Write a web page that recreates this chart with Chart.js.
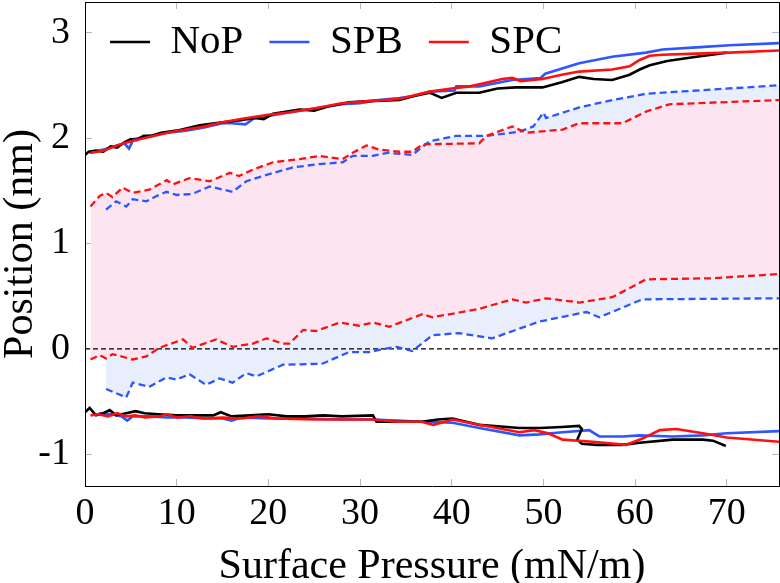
<!DOCTYPE html>
<html><head><meta charset="utf-8">
<script src="https://cdn.jsdelivr.net/npm/chart.js@4"></script>
<style>html,body{margin:0;padding:0;background:#fff}#wrap{width:780px;height:583px}</style>
</head><body><div id="wrap"><canvas id="c" width="780" height="583"></canvas></div>
<script>
// ---- data (Surface Pressure in mN/m, Position in nm) ----
const xTicks = [0, 10, 20, 30, 40, 50, 60, 70];
const yTicks = [-1, 0, 1, 2, 3];

const nopUpperX = [0,0.4,1.2,2.0,2.8,3.5,4.3,5.0,5.6,6.4,7.2,8.3,10,12.5,15,17,18.5,19.5,20.5,23.4,25,26.5,28.8,31,34.3,36,37.6,38.9,40.5,43,45,47,49.9,52,53.9,55.5,57.5,59.4,60.5,61.6,63.5,66.7,70];
const nopUpperY = [1.84,1.87,1.88,1.87,1.92,1.91,1.96,1.99,1.98,2.02,2.02,2.05,2.07,2.12,2.15,2.17,2.19,2.18,2.23,2.27,2.26,2.30,2.34,2.35,2.36,2.40,2.43,2.38,2.43,2.43,2.47,2.48,2.48,2.53,2.58,2.56,2.55,2.60,2.65,2.69,2.73,2.77,2.81];

const spbUpperX = [0.5,2,3.5,4.3,4.8,5.3,7,9,11,13,15,16,17.5,18.5,20,22,25,28,30,32,34.3,36,37.6,40.3,40.5,43,46.6,49.7,50.2,53.9,57.5,61.2,63,66.7,70.3,75.7];
const spbUpperY = [1.86,1.89,1.93,1.95,1.90,1.99,2.02,2.05,2.07,2.10,2.14,2.14,2.13,2.19,2.21,2.24,2.28,2.32,2.33,2.36,2.38,2.40,2.44,2.45,2.49,2.49,2.55,2.57,2.61,2.71,2.77,2.81,2.84,2.86,2.88,2.90];

const spcUpperX = [0.6,2,3.5,5,7,9,11,13,15,17,20,22,25,28,31,34.3,37.6,40,42,43.5,45.5,46.6,47.5,49.9,52,53.9,57.5,59.4,60.5,61.6,63,66.7,70.3,75.7];
const spcUpperY = [1.86,1.88,1.93,1.97,2.01,2.05,2.08,2.11,2.15,2.18,2.22,2.24,2.28,2.33,2.35,2.37,2.44,2.47,2.49,2.52,2.56,2.57,2.54,2.56,2.60,2.63,2.65,2.68,2.74,2.78,2.79,2.80,2.81,2.83];

const nopLowerX = [0,0.5,1.2,2,2.7,3.4,4.5,5.5,6.5,8,10,12,14,14.8,16,18,20,22,24,26,28,31.4,31.8,34,36.7,38.5,40.1,43,47.4,49.6,52,53.9,54.2,53.7,54.2,55.8,58.6,60.5,64.1,67.4,68.5,69.9];
const nopLowerY = [-0.60,-0.56,-0.63,-0.61,-0.58,-0.63,-0.61,-0.59,-0.61,-0.62,-0.63,-0.63,-0.63,-0.60,-0.64,-0.63,-0.62,-0.64,-0.64,-0.63,-0.64,-0.63,-0.69,-0.69,-0.69,-0.67,-0.66,-0.72,-0.75,-0.75,-0.74,-0.73,-0.76,-0.86,-0.90,-0.91,-0.91,-0.89,-0.86,-0.86,-0.87,-0.92];

const spbLowerX = [1.5,3,4,4.6,5.2,7,9,11,13,15,16,17,20,24,28,31.4,34,36.7,40.1,43,47.4,49.6,52.1,55,56.1,58.6,60.5,64.1,67.4,70,75.7];
const spbLowerY = [-0.61,-0.62,-0.64,-0.68,-0.64,-0.64,-0.65,-0.65,-0.66,-0.66,-0.68,-0.65,-0.66,-0.66,-0.67,-0.67,-0.68,-0.69,-0.70,-0.75,-0.82,-0.81,-0.79,-0.77,-0.83,-0.83,-0.82,-0.83,-0.82,-0.80,-0.78];

const spcLowerX = [0.6,1.5,2.5,3.5,4.5,5.5,6.5,8,9,10,11.5,13,15,17,19,21,25,28,31.4,34,36.7,38,40.1,43,45.5,47.4,49,50.5,52.1,55.4,59,60.8,62.7,64.5,67.4,70,75.7];
const spcLowerY = [-0.63,-0.62,-0.64,-0.61,-0.64,-0.63,-0.65,-0.64,-0.62,-0.65,-0.64,-0.66,-0.65,-0.66,-0.64,-0.66,-0.67,-0.67,-0.67,-0.69,-0.69,-0.72,-0.67,-0.72,-0.76,-0.79,-0.77,-0.80,-0.86,-0.88,-0.91,-0.85,-0.77,-0.76,-0.80,-0.84,-0.88];

const spcHeadX = [0.6,1.6,2.3,3,4.1,5.2,7,8.9,9.6,11.4,13.6,15.8,16.8,18.3,20.5,23.4,25.6,28.1,29.2,30.7,32.1,34.3,35.7,36.8,43,43.8,46.6,48.1,52.1,53.9,58.6,61.2,63.7,75.7];
const spcHeadY = [1.35,1.45,1.48,1.44,1.53,1.48,1.51,1.60,1.56,1.62,1.59,1.67,1.64,1.70,1.77,1.80,1.83,1.80,1.86,1.93,1.89,1.87,1.87,1.94,1.95,2.02,2.11,2.05,2.08,2.14,2.14,2.25,2.32,2.36];

const spcTailX = [0.6,1.6,2.3,3,5.2,6.7,8.1,10.7,11.7,14.3,16.1,18.3,19.8,21.6,22.3,23.8,25.2,27.8,29.9,31.4,33.2,36.8,37.9,43,46.6,48.1,50.3,53.9,57.5,59.7,61.2,68.4,75.7];
const spcTailY = [-0.10,-0.06,-0.09,-0.05,-0.10,-0.07,0.01,0.09,0.01,0.09,0.02,0.05,0.10,0.05,0.05,0.18,0.17,0.25,0.22,0.25,0.21,0.33,0.30,0.38,0.47,0.44,0.48,0.44,0.49,0.59,0.66,0.67,0.71];

const spbHeadX = [2.3,3.4,4.5,5.2,6.7,7.8,8.9,10,11.7,13.6,16.1,17.6,19.8,22.6,25.2,28.1,29.2,31.4,33,35.7,37.6,40.5,43.8,47.4,48.9,50,50.3,53.9,57.5,61.2,68.4,75.7];
const spbHeadY = [1.32,1.40,1.35,1.42,1.40,1.45,1.49,1.46,1.47,1.54,1.49,1.59,1.65,1.72,1.75,1.77,1.83,1.83,1.86,1.84,1.97,2.02,2.02,2.06,2.11,2.24,2.19,2.29,2.36,2.42,2.46,2.50];

const spbTailX = [2.3,4.5,5.2,7,8.9,10,11.4,13.2,14.7,16.1,17.6,18.7,21.6,25.9,28.8,31,32.1,34,35.7,37.9,40.8,44.4,49.6,54.7,56.1,60.8,75.7];
const spbTailY = [-0.38,-0.46,-0.32,-0.36,-0.27,-0.29,-0.24,-0.34,-0.28,-0.32,-0.23,-0.26,-0.15,-0.14,-0.03,-0.03,-0.01,0.02,-0.02,0.13,0.15,0.10,0.26,0.35,0.30,0.47,0.48];

const zeroX = [0, 75.7];
const zeroY = [0, 0];

// ---- build ----
const pts = (xs, ys) => xs.map((x, i) => ({x: x, y: ys[i]}));
const FONT = "'Liberation Serif', 'Times New Roman', serif";
const BLACK = '#000000', BLUE = '#2f55ff', RED = '#ff1010';
const PINK = '#fce4f0', LBLUE = '#e8eefc';
const X_MIN = 0, X_MAX = 75.7, Y_MIN = -1.30, Y_MAX = 3.29;

const solid = (label, data, color) => ({label, data, borderColor: color, backgroundColor: color, borderWidth: 2.6, pointRadius: 0, fill: false, tension: 0});
const dashed = (label, data, color, fill, bg) => ({label, data, borderColor: color, backgroundColor: bg || 'transparent', borderWidth: 2.3, borderDash: [7, 4], pointRadius: 0, fill: fill, tension: 0});

const datasets = [
  solid('SPC', pts(spcUpperX, spcUpperY), RED),            // 0
  solid('SPC lower', pts(spcLowerX, spcLowerY), RED),      // 1
  dashed('SPC head', pts(spcHeadX, spcHeadY), RED, {target: 3}, PINK), // 2
  dashed('SPC tail', pts(spcTailX, spcTailY), RED, false), // 3
  solid('NoP', pts(nopUpperX, nopUpperY), BLACK),          // 4
  solid('NoP lower', pts(nopLowerX, nopLowerY), BLACK),    // 5
  solid('SPB', pts(spbUpperX, spbUpperY), BLUE),           // 6
  solid('SPB lower', pts(spbLowerX, spbLowerY), BLUE),     // 7
  dashed('SPB head', pts(spbHeadX, spbHeadY), BLUE, {target: 9}, LBLUE), // 8
  dashed('SPB tail', pts(spbTailX, spbTailY), BLUE, false), // 9
  {label: 'zero', data: pts(zeroX, zeroY), borderColor: BLACK, borderWidth: 1.3, borderDash: [5, 3], pointRadius: 0, fill: false} // 10
];

const legendOrder = ['NoP', 'SPB', 'SPC'];
const tickGrid = {drawOnChartArea: false, drawTicks: true, tickLength: -7, color: '#b8b8b8', lineWidth: 1};
const border = {display: true, color: '#000', width: 1};
const noPad = (s) => { s.paddingTop = 0; s.paddingBottom = 0; s.paddingLeft = 0; s.paddingRight = 0; };

// Legend drawn inside the plot area as one row (pgfplots style):
// it takes no layout height, then its box is placed over the chart area.
const legendInside = {
  id: 'legendInside',
  beforeLayout(chart) {
    const lg = chart.legend;
    if (lg && !lg._insidePatched) {
      const origFit = lg.fit.bind(lg);
      lg.fit = function () { origFit(); this.height = 0; };
      lg._insidePatched = true;
    }
  },
  afterLayout(chart) {
    const lg = chart.legend;
    const area = chart.chartArea;
    lg.left = area.left - 1;
    lg.right = area.right;
    lg.top = area.top - 6.5;
    lg.bottom = area.top + 90;
    lg.width = lg.right - lg.left;
    lg.height = lg.bottom - lg.top;
  }
};

new Chart(document.getElementById('c'), {
  type: 'line',
  data: {datasets},
  plugins: [legendInside],
  options: {
    responsive: false,
    devicePixelRatio: 1,
    animation: false,
    events: [],
    layout: {padding: {top: 2, right: 1, left: 0, bottom: 0}},
    plugins: {
      tooltip: {enabled: false},
      filler: {drawTime: 'beforeDatasetsDraw'},
      legend: {
        position: 'top',
        align: 'start',
        fullSize: false,
        labels: {
          filter: (item) => legendOrder.includes(item.text),
          sort: (a, b) => legendOrder.indexOf(a.text) - legendOrder.indexOf(b.text),
          usePointStyle: true,
          pointStyle: 'line',
          pointStyleWidth: 40,
          padding: 26,
          color: '#000',
          font: {family: FONT, size: 41}
        }
      }
    },
    scales: {
      x: {
        type: 'linear', position: 'bottom', min: X_MIN, max: X_MAX,
        afterBuildTicks: (s) => { s.ticks = xTicks.map(v => ({value: v})); },
        afterFit: (s) => { s.height = 97; noPad(s); },
        grid: tickGrid, border: border,
        ticks: {autoSkip: false, maxRotation: 0, padding: 12, color: '#000', font: {family: FONT, size: 38}, callback: (v) => String(v)},
        title: {display: true, text: 'Surface Pressure (mN/m)', color: '#000', font: {family: FONT, size: 42, lineHeight: 0.75}, padding: {top: 0, bottom: 0}}
      },
      y: {
        type: 'linear', position: 'left', min: Y_MIN, max: Y_MAX,
        afterBuildTicks: (s) => { s.ticks = yTicks.map(v => ({value: v})); },
        afterFit: (s) => { s.width = 85; noPad(s); },
        grid: tickGrid, border: border,
        ticks: {autoSkip: false, padding: 22, color: '#000', font: {family: FONT, size: 38}, callback: (v) => String(v)},
        title: {display: true, text: 'Position (nm)', color: '#000', font: {family: FONT, size: 42, lineHeight: 1}, padding: 0}
      },
      xTop: {
        type: 'linear', position: 'top', min: X_MIN, max: X_MAX,
        afterBuildTicks: (s) => { s.ticks = xTicks.map(v => ({value: v})); },
        afterFit: (s) => { s.height = 0; noPad(s); },
        grid: tickGrid, border: border,
        ticks: {display: false}
      },
      yRight: {
        type: 'linear', position: 'right', min: Y_MIN, max: Y_MAX,
        afterBuildTicks: (s) => { s.ticks = yTicks.map(v => ({value: v})); },
        afterFit: (s) => { s.width = 0; noPad(s); },
        grid: tickGrid, border: border,
        ticks: {display: false}
      }
    }
  }
});
</script>
</body></html>
